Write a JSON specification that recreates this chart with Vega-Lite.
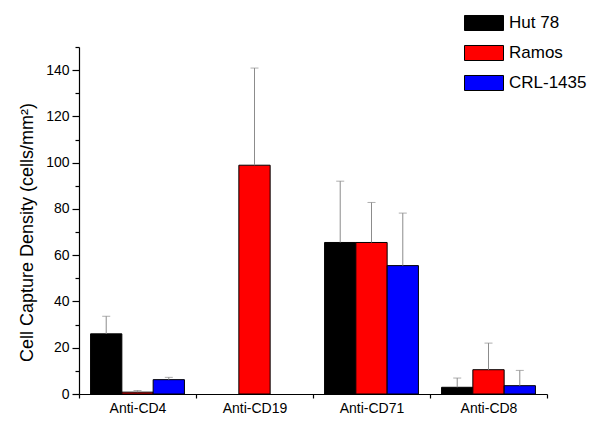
{
  "$schema": "https://vega.github.io/schema/vega-lite/v6.json",
  "width": 468,
  "height": 347,
  "autosize": "none",
  "padding": {"left": 79, "top": 47, "right": 53, "bottom": 35},
  "background": "white",
  "config": {
    "view": {"stroke": null},
    "font": "Liberation Sans",
    "axis": {"labelColor": "black", "titleColor": "black", "domainColor": "black", "tickColor": "black", "grid": false, "labelFont": "Liberation Sans", "titleFont": "Liberation Sans"}
  },
  "data": {
    "values": [
      {"antibody": "Anti-CD4", "cell": "Hut 78", "mean": 26, "upper": 33.6},
      {"antibody": "Anti-CD4", "cell": "Ramos", "mean": 0.8, "upper": 1.5},
      {"antibody": "Anti-CD4", "cell": "CRL-1435", "mean": 6.2, "upper": 7.2},
      {"antibody": "Anti-CD19", "cell": "Ramos", "mean": 98.9, "upper": 140.9},
      {"antibody": "Anti-CD71", "cell": "Hut 78", "mean": 65.5, "upper": 92},
      {"antibody": "Anti-CD71", "cell": "Ramos", "mean": 65.5, "upper": 82.8},
      {"antibody": "Anti-CD71", "cell": "CRL-1435", "mean": 55.5, "upper": 78.2},
      {"antibody": "Anti-CD8", "cell": "Hut 78", "mean": 2.9, "upper": 6.9},
      {"antibody": "Anti-CD8", "cell": "Ramos", "mean": 10.5, "upper": 22},
      {"antibody": "Anti-CD8", "cell": "CRL-1435", "mean": 3.6, "upper": 10.2}
    ]
  },
  "encoding": {
    "x": {
      "field": "antibody", "type": "nominal",
      "sort": ["Anti-CD4", "Anti-CD19", "Anti-CD71", "Anti-CD8"],
      "scale": {"paddingInner": 0, "paddingOuter": 0},
      "axis": {"title": null, "labelAngle": 0, "tickBand": "extent", "tickSize": 4, "labelFontSize": 14, "labelPadding": 3, "domainWidth": 1.2, "tickWidth": 1.2}
    },
    "xOffset": {
      "field": "cell", "type": "nominal",
      "sort": ["Hut 78", "Ramos", "CRL-1435"],
      "scale": {"paddingInner": 0, "paddingOuter": 0.37}
    }
  },
  "layer": [
    {
      "mark": {"type": "bar", "stroke": "black", "strokeWidth": 1},
      "encoding": {
        "y": {
          "field": "mean", "type": "quantitative",
          "scale": {"domain": [0, 150], "nice": false},
          "axis": {"title": "Cell Capture Density (cells/mm²)", "values": [0, 20, 40, 60, 80, 100, 120, 140], "tickSize": 7, "labelFontSize": 14, "labelPadding": 3, "titleFontSize": 18, "titleFontWeight": "normal", "titlePadding": 9, "titleY": 185, "domainWidth": 1.2, "tickWidth": 1.2}
        },
        "color": {
          "field": "cell", "type": "nominal",
          "sort": ["Hut 78", "Ramos", "CRL-1435"],
          "scale": {"domain": ["Hut 78", "Ramos", "CRL-1435"], "range": ["#000000", "#ff0000", "#0000ff"]},
          "legend": {
            "title": null, "orient": "none", "legendX": 385, "legendY": -44,
            "symbolType": "M-1,-0.385H1V0.385H-1Z", "symbolSize": 1521,
            "symbolStrokeColor": "black", "symbolStrokeWidth": 1, "symbolOpacity": 1,
            "labelFontSize": 17, "labelColor": "black", "labelOffset": 5, "rowPadding": -18, "padding": 0
          }
        }
      }
    },
    {
      "mark": {"type": "rule", "color": "#8c8c8c", "strokeWidth": 1},
      "encoding": {
        "y": {"field": "mean", "type": "quantitative", "axis": null},
        "y2": {"field": "upper"}
      }
    },
    {
      "mark": {"type": "tick", "color": "#8c8c8c", "size": 8, "thickness": 1},
      "encoding": {
        "y": {"field": "upper", "type": "quantitative", "axis": null}
      }
    },
    {
      "mark": {"type": "point", "opacity": 0},
      "encoding": {
        "y": {
          "field": "mean", "type": "quantitative",
          "axis": {"title": null, "labels": false, "domain": false, "values": [10, 30, 50, 70, 90, 110, 130, 150], "tickSize": 4, "tickWidth": 1.2, "orient": "left"}
        }
      }
    }
  ],
  "resolve": {"axis": {"y": "independent"}}
}
